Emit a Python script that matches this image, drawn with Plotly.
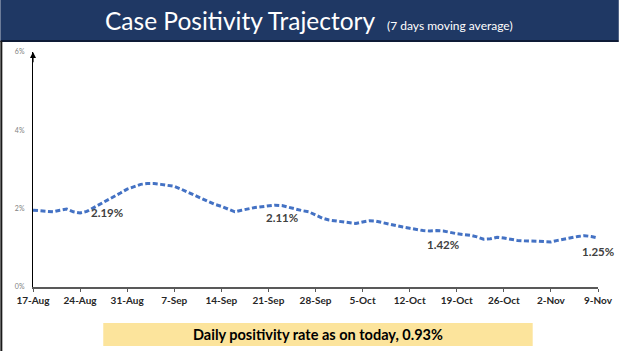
import pandas as pd
import plotly.graph_objects as go

start_date = "2020-08-17"
positivity = [1.96, 1.95, 1.93, 1.92, 1.96, 1.99, 1.92, 1.89, 1.93, 2.02,
              2.11, 2.20, 2.30, 2.40, 2.50, 2.57, 2.62, 2.64, 2.64, 2.62,
              2.59, 2.57, 2.50, 2.42, 2.33, 2.25, 2.17, 2.11, 2.06, 1.99,
              1.92, 1.96, 2.00, 2.03, 2.05, 2.07, 2.09, 2.08, 2.03, 1.99,
              1.95, 1.92, 1.84, 1.76, 1.71, 1.69, 1.66, 1.64, 1.62, 1.66,
              1.69, 1.68, 1.64, 1.60, 1.57, 1.53, 1.50, 1.47, 1.44, 1.43,
              1.44, 1.43, 1.39, 1.36, 1.34, 1.32, 1.28, 1.22, 1.23, 1.27,
              1.25, 1.22, 1.19, 1.18, 1.18, 1.17, 1.16, 1.15, 1.19, 1.23,
              1.26, 1.29, 1.31, 1.29, 1.25]
dates = pd.date_range(start_date, periods=len(positivity), freq="D")

tick_labels = ["17-Aug", "24-Aug", "31-Aug", "7-Sep", "14-Sep", "21-Sep", "28-Sep",
               "5-Oct", "12-Oct", "19-Oct", "26-Oct", "2-Nov", "9-Nov"]
tick_dates = pd.date_range(start_date, periods=len(tick_labels), freq="7D")

y_ticks = [0, 2, 4, 6]
y_tick_labels = ["0%", "2%", "4%", "6%"]

label_dates = ["2020-08-28", "2020-09-23", "2020-10-17", "2020-11-09"]
label_texts = ["2.19%", "2.11%", "1.42%", "1.25%"]
label_shifts = [-12, -12, -14, -13]

title = "Case Positivity Trajectory"
subtitle = "(7 days moving average)"
footer = "Daily positivity rate as on today, 0.93%"

W, H = 625, 351
L, R, T, B = 33, 21, 52, 64
pw, ph = W - L - R, H - T - B

def px_x(p):
    return (p - L) / pw

def px_y(p):
    return (H - B - p) / ph

fig = go.Figure()
fig.add_trace(go.Scatter(
    x=dates, y=positivity, mode="lines",
    line=dict(color="#4472C4", width=3, dash="5px,2.5px"),
    hoverinfo="skip", showlegend=False,
))

s = pd.Series(positivity, index=dates)
for d, t, sh in zip(label_dates, label_texts, label_shifts):
    fig.add_annotation(x=pd.Timestamp(d), y=float(s[pd.Timestamp(d)]), text=t,
                       showarrow=False, yshift=sh,
                       font=dict(family="Lato", size=11.5, color="#404040", weight="bold"))

# arrow on top of y axis
fig.add_annotation(x=dates[0], y=6, ax=dates[0], ay=5.7, xref="x", yref="y",
                   axref="x", ayref="y", showarrow=True, arrowhead=2,
                   arrowsize=1, arrowwidth=1.2, arrowcolor="#000000", text="")

shapes = [
    dict(type="rect", xref="paper", yref="paper", x0=px_x(0), x1=px_x(W),
         y0=px_y(40), y1=px_y(0), fillcolor="#1F3864", line=dict(width=0), layer="below"),
    dict(type="line", xref="paper", yref="paper", x0=px_x(0), x1=px_x(W),
         y0=px_y(41), y1=px_y(41), line=dict(color="#0E1B36", width=2)),
    dict(type="line", xref="paper", yref="paper", x0=px_x(1), x1=px_x(1),
         y0=px_y(41), y1=px_y(H), line=dict(color="#1a1a1a", width=2)),
    dict(type="rect", xref="paper", yref="paper", x0=px_x(104), x1=px_x(538),
         y0=px_y(346), y1=px_y(323), fillcolor="#FCE49C", line=dict(width=0), layer="below"),
]

fig.add_annotation(xref="paper", yref="paper", x=px_x(312), y=px_y(21),
                   text=title + "  <span style='font-size:12px'>" + subtitle + "</span>",
                   showarrow=False, xanchor="center", yanchor="middle",
                   font=dict(family="Lato", size=24.5, color="#FFFFFF"))
fig.add_annotation(xref="paper", yref="paper", x=px_x(321), y=px_y(334.5),
                   text=footer, showarrow=False, xanchor="center", yanchor="middle",
                   font=dict(family="Lato", size=14.5, color="#000000", weight="bold"))

fig.update_layout(
    width=W, height=H, margin=dict(l=L, r=R, t=T, b=B),
    paper_bgcolor="#FFFFFF", plot_bgcolor="#FFFFFF",
    shapes=shapes, showlegend=False,
    xaxis=dict(range=[dates[0], dates[-1]], tickmode="array", tickvals=tick_dates,
               ticktext=tick_labels, showgrid=False, zeroline=False,
               showline=True, linecolor="#595959", linewidth=1.5,
               ticks="outside", ticklen=3, tickcolor="#595959",
               tickfont=dict(family="Lato", size=10, color="#262626", weight="bold")),
    yaxis=dict(range=[0, 6], tickmode="array", tickvals=y_ticks, ticktext=y_tick_labels,
               showgrid=False, zeroline=False, showline=True, linecolor="#000000",
               linewidth=1.2, ticks="", ticklabelstandoff=6,
               tickfont=dict(family="Lato", size=7, color="#7f7f7f")),
)

fig.write_html("out.html")
